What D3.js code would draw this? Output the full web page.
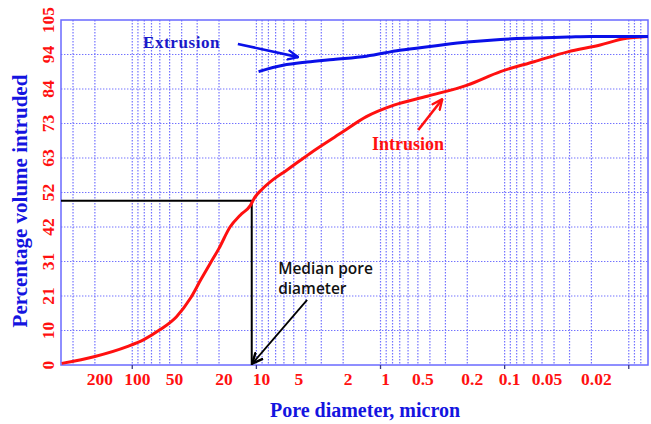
<!DOCTYPE html>
<html>
<head>
<meta charset="utf-8">
<script src="https://cdn.jsdelivr.net/npm/d3@7"></script>
<style>
  html, body { margin: 0; padding: 0; background: #fff; }
  svg { display: block; }
</style>
</head>
<body>
<svg id="chart" width="651" height="424"></svg>
<script>
// Mercury porosimetry: cumulative volume vs pore diameter (micron)
const intrusion = [
  [370, 0.5], [200, 2.6], [110, 5.6], [80, 7.8], [60, 10.7], [44, 14.7],
  [34, 20.3], [28, 26], [23.5, 31], [20, 35.5], [16.3, 42], [13.5, 45.6],
  [11.2, 48.5], [10.3, 51], [9, 53.5], [7.3, 56.5], [5.7, 59.3], [3.7, 64.4],
  [2.1, 70.5], [1.3, 75.6], [0.78, 79.1], [0.42, 81.8], [0.2, 85.2],
  [0.108, 89.3], [0.058, 92.3], [0.031, 95.3], [0.017, 97.4], [0.011, 99.3],
  [0.007, 100]
];
const extrusion = [
  [9.6, 89.3], [6.1, 91.2], [3.9, 92.2], [2.4, 93], [1.3, 94], [0.7, 95.8],
  [0.37, 97.1], [0.2, 98.3], [0.108, 99.1], [0.058, 99.5], [0.031, 99.8],
  [0.02, 100], [0.007, 100]
];
const xTickLabels = [200, 100, 50, 20, 10, 5, 2, 1, 0.5, 0.2, 0.1, 0.05, 0.02];
const yTicks = [0, 10.5, 21, 31.5, 42, 52.5, 63, 73.5, 84, 94.5, 105];
const medianDiameter = 10.9;
const medianPercent = 50;

const svg = d3.select("#chart");
const plot = { left: 61, right: 648, top: 20, bottom: 365 };

const x = d3.scaleLog().domain([375, 0.007]).range([plot.left, plot.right]);
const y = d3.scaleLinear().domain([0, 105]).range([plot.bottom, plot.top]);

const gridColor = "#7272ff";
const frameColor = "#6a6aff";
const titleBlue = "#1414e0";
const red = "#ff1010";
const blue = "#0a10e8";

// dotted grid
const grid = svg.append("g");
grid.selectAll("line.v")
  .data(x.ticks().filter(d => x(d) > plot.left + 1 && x(d) < plot.right - 1))
  .join("line")
  .attr("class", "v")
  .attr("x1", d => x(d)).attr("x2", d => x(d))
  .attr("y1", plot.top).attr("y2", plot.bottom)
  .attr("stroke", gridColor).attr("stroke-width", 1.2)
  .attr("stroke-dasharray", "1.4,1.6");
grid.selectAll("line.h").data(yTicks.slice(1, -1))
  .join("line")
  .attr("class", "h")
  .attr("x1", plot.left).attr("x2", plot.right)
  .attr("y1", d => y(d)).attr("y2", d => y(d))
  .attr("stroke", gridColor).attr("stroke-width", 1.2)
  .attr("stroke-dasharray", "1.4,1.6");

// frame
svg.append("rect")
  .attr("x", plot.left).attr("y", plot.top)
  .attr("width", plot.right - plot.left).attr("height", plot.bottom - plot.top)
  .attr("fill", "none").attr("stroke", frameColor).attr("stroke-width", 1.5);

// decade tick marks under the x axis
const decades = x.ticks().filter(d => Math.abs(Math.log10(d) - Math.round(Math.log10(d))) < 1e-9);
svg.append("g").selectAll("line").data(decades).join("line")
  .attr("x1", d => x(d)).attr("x2", d => x(d))
  .attr("y1", plot.bottom).attr("y2", plot.bottom + 4)
  .attr("stroke", "#3a3a80").attr("stroke-width", 1.3);

// tick labels
const serif = "'Liberation Serif', 'Times New Roman', serif";
svg.append("g").selectAll("text").data(xTickLabels).join("text")
  .attr("x", d => x(d) + 5).attr("y", 385)
  .attr("text-anchor", "middle")
  .attr("font-family", serif).attr("font-weight", "bold")
  .attr("font-size", 17.5).attr("fill", red)
  .text(d => String(d));

svg.append("g").selectAll("text").data(yTicks).join("text")
  .attr("transform", d => `translate(48,${y(d)}) rotate(-90)`)
  .attr("dy", "0.35em")
  .attr("text-anchor", "middle")
  .attr("font-family", serif).attr("font-weight", "bold")
  .attr("font-size", 17.5).attr("fill", red)
  .text(d => Math.floor(d));

// axis titles
svg.append("text")
  .attr("x", 365).attr("y", 417)
  .attr("text-anchor", "middle")
  .attr("font-family", serif).attr("font-weight", "bold")
  .attr("font-size", 20).attr("fill", titleBlue)
  .text("Pore diameter, micron");
svg.append("text")
  .attr("transform", "translate(20,201) rotate(-90)")
  .attr("dy", "0.35em")
  .attr("text-anchor", "middle")
  .attr("font-family", serif).attr("font-weight", "bold")
  .attr("font-size", 21).attr("fill", titleBlue)
  .text("Percentage volume intruded");

// median pore diameter guides
svg.append("path")
  .attr("d", `M${x(375)},${y(medianPercent)}H${x(medianDiameter)}V${y(0)}`)
  .attr("fill", "none").attr("stroke", "#000").attr("stroke-width", 2);

// curves
const line = d3.line().x(d => x(d[0])).y(d => y(d[1])).curve(d3.curveMonotoneX);
svg.append("path").datum(intrusion)
  .attr("d", line)
  .attr("fill", "none").attr("stroke", red).attr("stroke-width", 3)
  .attr("stroke-linejoin", "round");
svg.append("path").datum(extrusion)
  .attr("d", line)
  .attr("fill", "none").attr("stroke", blue).attr("stroke-width", 3)
  .attr("stroke-linejoin", "round");

// arrow heads
const defs = svg.append("defs");
function marker(id, color) {
  defs.append("marker")
    .attr("id", id)
    .attr("viewBox", "0 0 12 12")
    .attr("refX", 11).attr("refY", 6)
    .attr("markerWidth", 12).attr("markerHeight", 12)
    .attr("markerUnits", "userSpaceOnUse")
    .attr("orient", "auto")
    .append("path")
    .attr("d", "M1,1.5 L11,6 L1,10.5")
    .attr("fill", "none").attr("stroke", color).attr("stroke-width", 2.4)
    .attr("stroke-linecap", "round").attr("stroke-linejoin", "round");
}
marker("headBlue", blue);
marker("headRed", red);
marker("headBlack", "#000");

function arrow(from, to, color, head, w) {
  svg.append("line")
    .attr("x1", x(from[0])).attr("y1", y(from[1]))
    .attr("x2", x(to[0])).attr("y2", y(to[1]))
    .attr("stroke", color).attr("stroke-width", w)
    .attr("marker-end", `url(#${head})`);
}
arrow([14.1, 97.7], [4.6, 93.7], blue, "headBlue", 2.6);
arrow([0.497, 71.5], [0.318, 80.9], red, "headRed", 2.6);
arrow([3.9, 19.8], [10.8, 0.4], "#000", "headBlack", 1.8);

// annotations
svg.append("text")
  .attr("x", x(82)).attr("y", y(96.5))
  .attr("font-family", serif).attr("font-weight", "bold")
  .attr("font-size", 17).attr("letter-spacing", 0.6).attr("fill", "#1a1ac8")
  .text("Extrusion");
svg.append("text")
  .attr("x", x(1.17)).attr("y", y(65.4))
  .attr("font-family", serif).attr("font-weight", "bold")
  .attr("font-size", 18).attr("fill", red)
  .text("Intrusion");
const sans = "'Open Sans', 'Liberation Sans', sans-serif";
svg.append("text")
  .attr("x", x(6.68)).attr("y", y(27.7))
  .attr("font-family", sans).attr("font-weight", 600)
  .attr("font-size", 15.5).attr("fill", "#111")
  .text("Median pore");
svg.append("text")
  .attr("x", x(6.68)).attr("y", y(21.6))
  .attr("font-family", sans).attr("font-weight", 600)
  .attr("font-size", 15.5).attr("fill", "#111")
  .text("diameter");
</script>
</body>
</html>
